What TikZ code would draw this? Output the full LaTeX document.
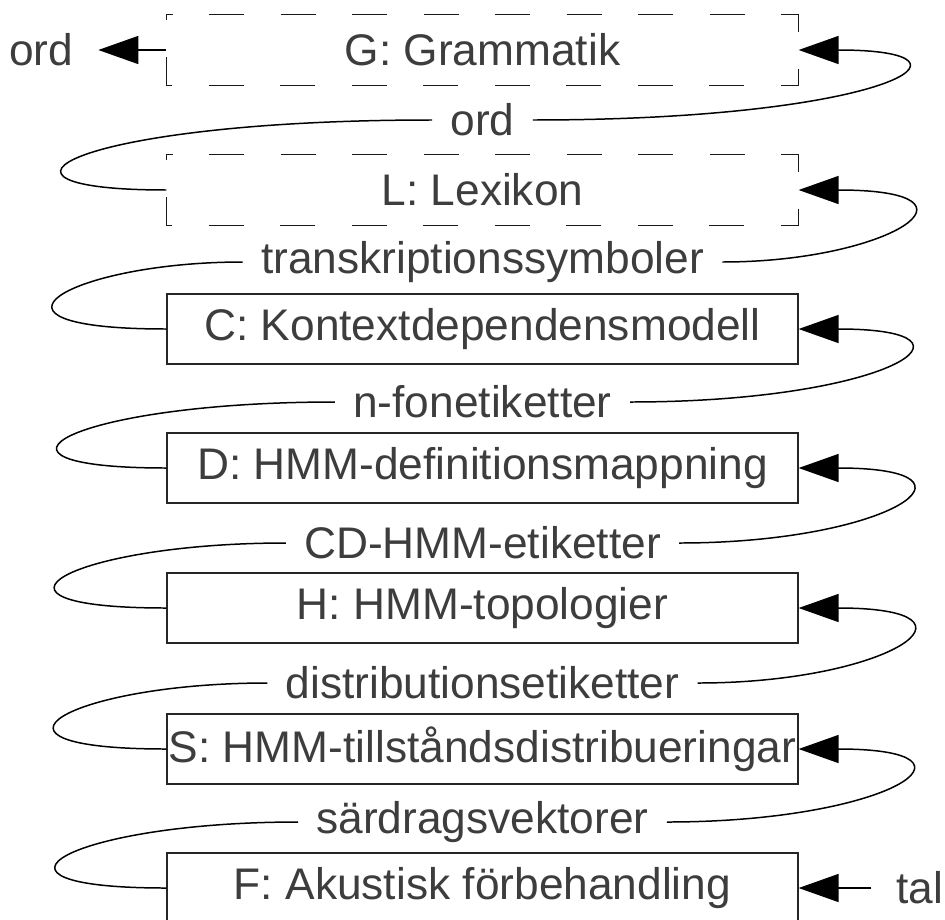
\documentclass[tikz,border=0pt]{standalone}
\usepackage{fontspec}
\setmainfont{Liberation Sans}
\usetikzlibrary{arrows.meta}
\definecolor{inkgray}{HTML}{3D3D3D}

\begin{document}
\begin{tikzpicture}[x=.02cm,y=-.02cm,line cap=butt,line join=miter,
  font=\fontsize{25.2}{30}\selectfont,
  modbox/.style={draw=black!85,line width=.75pt,text=inkgray,minimum width=12.62cm,minimum height=1.4cm,inner sep=0pt},
  dashbox/.style={modbox,draw=none},
  dashedge/.style={draw=black!90,line width=.8pt,dash pattern=on .7cm off .73cm,dash phase=.57cm},
  flowlab/.style={text=inkgray,inner xsep=.36cm,inner ysep=0pt},
  endlab/.style={text=inkgray,inner xsep=.5cm,inner ysep=0pt},
  conn/.style={line width=.85pt,draw=black},
  >={Triangle[length=.8cm,width=.56cm]}]
  \useasboundingbox (0,0) rectangle (945,919);
  \node[dashbox] (G) at (482.5,50) {G: Grammatik};
  \node[dashbox] (L) at (482.5,190) {L: Lexikon};
  \foreach \nm in {G,L}{
    \draw[dashedge] (\nm.north west) -- (\nm.north east) -- (\nm.south east) -- (\nm.south west) -- cycle;
  }
  \foreach \nm/\txt/\y in {C/C: Kontextdependensmodell/329,D/D: HMM-definitionsmappning/468,
      H/H: HMM-topologier/608,S/S: HMM-tillståndsdistribueringar/749,F/F: Akustisk förbehandling/888}{
    \node[modbox] (\nm) at (482.5,\y) {\txt};
  }
  \foreach \nm/\txt/\y in {lord/ord/120,ltrans/transkriptionssymboler/262,lfon/n-fonetiketter/402,
      lcd/CD-HMM-etiketter/543,ldist/distributionsetiketter/683,lsard/särdragsvektorer/822}{
    \node[flowlab] (\nm) at (482.5,\y) {\txt};
  }
  \node[endlab] (ordout) at (41,50) {ord};
  \node[endlab] (tal) at (920,888) {tal};
  \coordinate (lft) at (70,0);
  \coordinate (rgt) at (890,0);
  \foreach \lo/\lab/\hi in {L/lord/G,C/ltrans/L,D/lfon/C,H/lcd/D,S/ldist/H,F/lsard/S}{
    \draw[conn] (\lo.west) .. controls +(-212,0) and (lft |- \lab.west) .. (\lab.west);
    \draw[conn,->] (\lab.east) .. controls (rgt |- \lab.east) and +(200,0) .. (\hi.east);
  }
  \draw[conn,->] (G.west) -- (ordout.east);
  \draw[conn,->] (tal.west) -- (F.east);
\end{tikzpicture}
\end{document}
